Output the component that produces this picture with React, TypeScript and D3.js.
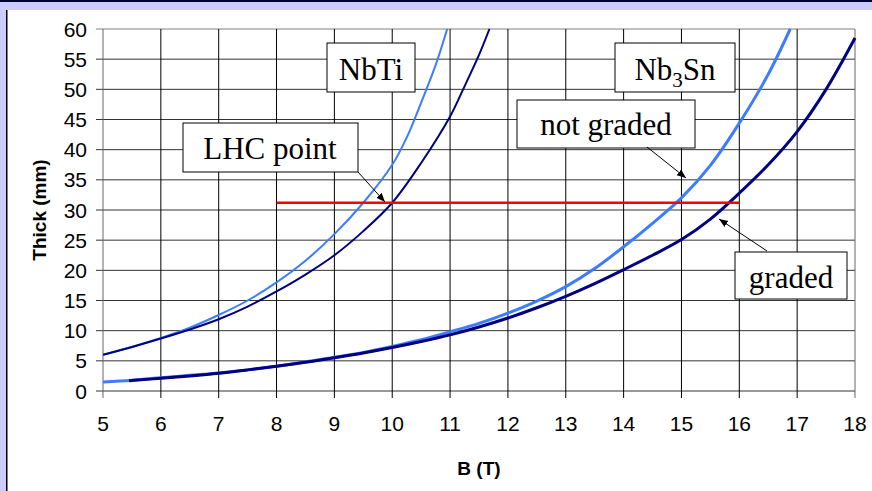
import React from "react";
import * as d3 from "d3";

// Field (T) and required coil thickness (mm)
const bNbTiNotGraded = [5, 5.5, 6, 6.5, 7, 7.5, 8, 8.5, 9, 9.5, 10, 10.25, 10.5, 10.75, 10.95];
const thickNbTiNotGraded = [6.0, 7.3, 8.8, 10.5, 12.6, 15.0, 18.0, 21.6, 26.0, 31.2, 37.5, 42.0, 47.8, 54.0, 60];

const bNbTiGraded = [5, 5.5, 6, 6.5, 7, 7.5, 8, 8.5, 9, 9.5, 10, 10.5, 11, 11.25, 11.5, 11.68];
const thickNbTiGraded = [6.0, 7.3, 8.7, 10.2, 11.9, 14.0, 16.5, 19.3, 22.5, 26.5, 31.2, 37.8, 45.5, 50.5, 55.7, 60];

const bNb3SnNotGraded = [5, 5.5, 6, 6.5, 7, 7.5, 8, 8.5, 9, 9.5, 10, 10.5, 11, 11.5, 12, 12.5, 13, 13.5, 14, 14.5, 15, 15.5, 16, 16.5, 16.88];
const thickNb3SnNotGraded = [1.5, 1.8, 2.2, 2.6, 3.0, 3.5, 4.1, 4.8, 5.6, 6.4, 7.4, 8.5, 9.8, 11.2, 12.9, 14.9, 17.3, 20.3, 23.9, 27.8, 32.0, 37.4, 44.4, 52.5, 60];

const bNb3SnGraded = [5.45, 5.5, 6, 6.5, 7, 7.5, 8, 8.5, 9, 9.5, 10, 10.5, 11, 11.5, 12, 12.5, 13, 13.5, 14, 14.5, 15, 15.5, 16, 16.5, 17, 17.5, 18];
const thickNb3SnGraded = [1.7, 1.75, 2.1, 2.5, 2.95, 3.5, 4.1, 4.75, 5.5, 6.3, 7.2, 8.2, 9.3, 10.6, 12.1, 13.8, 15.7, 17.8, 20.1, 22.5, 25.1, 28.5, 32.8, 37.5, 43.0, 50.0, 58.5];

// LHC operating thickness line
const lhcB = [8, 16];
const lhcThick = 31.2;

const xTicks = d3.range(5, 19, 1);
const yTicks = d3.range(0, 61, 5);

const LIGHT = "#3d7cff";
const DARK = "#000080";

type Pt = [number, number];
const zip = (xs: number[], ys: number[]): Pt[] => xs.map((x, i) => [x, ys[i]]);

export default function App() {
  const W = 872;
  const H = 491;
  const left = 103;
  const right = 855;
  const top = 29;
  const bottom = 391;

  const x = d3.scaleLinear().domain([5, 18]).range([left, right]);
  const y = d3.scaleLinear().domain([0, 60]).range([bottom, top]);
  const line = d3
    .line<Pt>()
    .x((d) => x(d[0]))
    .y((d) => y(d[1]))
    .curve(d3.curveCatmullRom.alpha(0.5));

  const serif = "'Liberation Serif', 'Times New Roman', serif";
  const sans = "'Liberation Sans', Arial, sans-serif";

  const box = (x0: number, y0: number, x1: number, y1: number) => (
    <rect x={x0} y={y0} width={x1 - x0} height={y1 - y0} fill="#fff" stroke="#000" strokeWidth={1} />
  );

  return (
    <svg
      width={W}
      height={H}
      style={{ position: "absolute", left: 0, top: 0, background: "#fff" }}
      fontFamily={sans}
    >
      <defs>
        <marker id="arr" viewBox="0 0 10 10" refX="10" refY="5" markerWidth="9" markerHeight="9" orient="auto-start-reverse" markerUnits="userSpaceOnUse">
          <path d="M0,1 L10,5 L0,9 z" fill="#000" />
        </marker>
        <clipPath id="plot">
          <rect x={left} y={top - 2} width={right - left + 2} height={bottom - top + 2} />
        </clipPath>
      </defs>

      {/* slide frame */}
      <rect x={0} y={0} width={W} height={10} fill="#ccccff" />
      <rect x={0} y={0} width={W} height={2} fill="#000033" />
      <rect x={0} y={10} width={6} height={H - 10} fill="#ccccff" />
      <rect x={6} y={10} width={1.5} height={H - 10} fill="#000" />

      {/* grid */}
      {yTicks.map((t) => (
        <line key={"gy" + t} x1={left - 7} x2={right} y1={y(t)} y2={y(t)} stroke={t === 60 ? "#808080" : "#333"} strokeWidth={1} />
      ))}
      {xTicks.map((t) => (
        <line key={"gx" + t} x1={x(t)} x2={x(t)} y1={top} y2={bottom + 7} stroke={t === 5 || t === 18 ? "#666" : "#000"} strokeWidth={1} />
      ))}

      {/* tick labels */}
      {yTicks.map((t) => (
        <text key={"ly" + t} x={87} y={y(t) + 7.5} textAnchor="end" fontSize={21} fill="#000">
          {t}
        </text>
      ))}
      {xTicks.map((t) => (
        <text key={"lx" + t} x={x(t)} y={431} textAnchor="middle" fontSize={21} fill="#000">
          {t}
        </text>
      ))}

      {/* axis titles */}
      <text x={(left + right) / 2} y={475} textAnchor="middle" fontSize={19} fontWeight="bold">
        B (T)
      </text>
      <text
        transform={`translate(46,${(top + bottom) / 2}) rotate(-90)`}
        textAnchor="middle"
        fontSize={19}
        fontWeight="bold"
      >
        Thick (mm)
      </text>

      {/* curves */}
      <g clipPath="url(#plot)" fill="none">
        <path d={line(zip(bNbTiNotGraded, thickNbTiNotGraded)) || ""} stroke={LIGHT} strokeWidth={2} />
        <path d={line(zip(bNbTiGraded, thickNbTiGraded)) || ""} stroke={DARK} strokeWidth={2} />
        <path d={line(zip(bNb3SnNotGraded, thickNb3SnNotGraded)) || ""} stroke={LIGHT} strokeWidth={3} />
        <path d={line(zip(bNb3SnGraded, thickNb3SnGraded)) || ""} stroke={DARK} strokeWidth={3} />
        <line x1={x(lhcB[0])} x2={x(lhcB[1])} y1={y(lhcThick)} y2={y(lhcThick)} stroke="#ff0000" strokeWidth={2.5} />
      </g>

      {/* annotations */}
      {box(327, 43, 415, 92)}
      <text x={371} y={80} textAnchor="middle" fontFamily={serif} fontSize={31}>
        NbTi
      </text>

      {box(615, 43, 735, 92)}
      <text x={675} y={80} textAnchor="middle" fontFamily={serif} fontSize={31}>
        Nb<tspan fontSize={21} dy={7}>3</tspan>
        <tspan dy={-7}>Sn</tspan>
      </text>

      {box(517, 100, 695, 148)}
      <text x={606} y={135} textAnchor="middle" fontFamily={serif} fontSize={31}>
        not graded
      </text>
      <line x1={647} y1={147} x2={686} y2={178} stroke="#000" strokeWidth={1} markerEnd="url(#arr)" />

      {box(183, 123, 358, 172)}
      <text x={270} y={159} textAnchor="middle" fontFamily={serif} fontSize={31}>
        LHC point
      </text>
      <line x1={358} y1={172} x2={385} y2={202} stroke="#000" strokeWidth={1} markerEnd="url(#arr)" />

      {box(735, 252, 847, 299)}
      <text x={791} y={288} textAnchor="middle" fontFamily={serif} fontSize={31}>
        graded
      </text>
      <line x1={767} y1={251} x2={719} y2={219} stroke="#000" strokeWidth={1} markerEnd="url(#arr)" />
    </svg>
  );
}
